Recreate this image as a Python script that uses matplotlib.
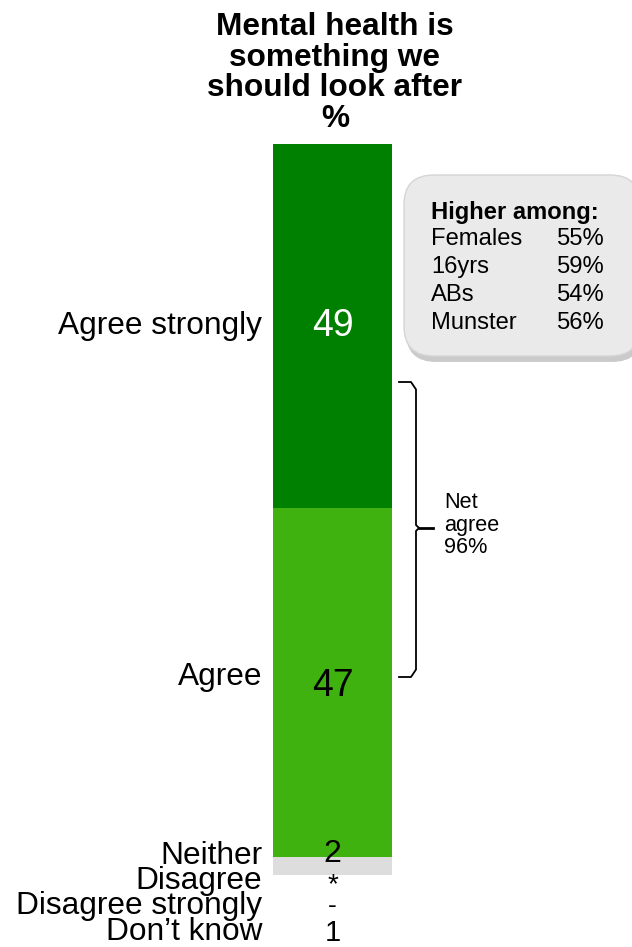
import matplotlib.pyplot as plt
from matplotlib.patches import FancyBboxPatch

plt.rcParams['font.family'] = ['Liberation Sans', 'DejaVu Sans']

# data
categories = ['Agree strongly', 'Agree', 'Neither', 'Disagree', 'Disagree strongly', "Don\u2019t know"]
values = [49, 47, 2, 0.4, 0, 1]
value_labels = ['49', '47', '2', '*', '-', '1']
colors = ['#008000', '#40B210', '#DDDDDD', '#DDDDDD', '#DDDDDD', 'white']
higher_groups = ['Females', '16yrs', 'ABs', 'Munster']
higher_values = [55, 59, 54, 56]
net_agree = 96

fig = plt.figure(figsize=(6.32, 9.47), dpi=100)
ax = fig.add_axes([0, 0, 1, 1])
# bar spans x 0..1, y is percent running downwards
px = 119.0
py = 7.43
ax.set_xlim(-273 / px, (632 - 273) / px)
ax.set_ylim((947 - 144) / py, -144 / py)
ax.axis('off')

bottom = 0
centers = []
for v, c in zip(values, colors):
    ax.bar(0, v, width=1, bottom=bottom, align='edge', color=c, edgecolor='none')
    centers.append(bottom + v / 2)
    bottom += v

# small categories stack their labels below the bar
label_y = [centers[0], centers[1] - 0.8, 95.8, 99.2, 102.6, 106.0]
value_y = [centers[0], centers[1] + 0.4, 95.6, 99.7, 102.5, 106.2]
value_fs = [27, 27, 23, 20, 19, 21]
for cat, ly in zip(categories, label_y):
    ax.text(-0.09, ly, cat, ha='right', va='center', fontsize=22.8)
for i, (lab, vy) in enumerate(zip(value_labels, value_y)):
    ax.text(0.5, vy, lab, ha='center', va='center', fontsize=value_fs[i],
            color='white' if i == 0 else 'black')

fig.text(0.53, 0.923, 'Mental health is\nsomething we\nshould look after\n%',
         ha='center', va='center', fontsize=22.8, fontweight='bold', linespacing=1.02)

# bracket for net agree
y0 = (382 - 144) / py
y1 = (677 - 144) / py
ym = (528 - 144) / py
x0 = 1 + 7 / px
x1 = 1 + 24 / px
xt = 1 + 41 / px
r = 1.0
ax.plot([x0, x1 - 5 / px, x1, x1, x1 + 3 / px], [y0, y0, y0 + r, ym - 0.4, ym],
        color='black', lw=1.3, solid_joinstyle='round')
ax.plot([x0, x1 - 5 / px, x1, x1, x1 + 3 / px], [y1, y1, y1 - r, ym + 0.4, ym],
        color='black', lw=1.3, solid_joinstyle='round')
ax.plot([x1 + 3 / px, xt], [ym, ym], color='black', lw=2)
ax.text(1 + 52 / px, ym - 0.4, f'Net\nagree\n{net_agree}%', ha='left', va='center',
        fontsize=15.6, linespacing=1.08)

# "higher among" box
bx0 = 1 + 12 / px
bx1 = (632 - 273 + 8) / px
by0 = (175 - 144) / py
by1 = (356 - 144) / py
shadow = FancyBboxPatch((bx0 + 2 / px, by0 + 0.8), bx1 - bx0, by1 - by0,
                        boxstyle='round,pad=0,rounding_size=0.25',
                        mutation_aspect=px / py,
                        fc='#8a8a8a', ec='none', alpha=0.45, zorder=2)
box = FancyBboxPatch((bx0, by0), bx1 - bx0, by1 - by0,
                     boxstyle='round,pad=0,rounding_size=0.25',
                     mutation_aspect=px / py,
                     fc='#EAEAEA', ec='#D5D5D5', lw=1, zorder=3)
ax.add_patch(shadow)
ax.add_patch(box)
tx = 1 + 39 / px
vx = 1 + 213 / px
ax.text(tx, (213 - 144) / py, 'Higher among:', ha='left', va='center',
        fontsize=17.1, fontweight='bold', zorder=4)
for i, (g, hv) in enumerate(zip(higher_groups, higher_values)):
    yy = (239 - 144 + i * 28) / py
    ax.text(tx, yy, g, ha='left', va='center', fontsize=17.1, zorder=4)
    ax.text(vx, yy, f'{hv}%', ha='right', va='center', fontsize=17.1, zorder=4)

fig.savefig('out.png', dpi=100)
